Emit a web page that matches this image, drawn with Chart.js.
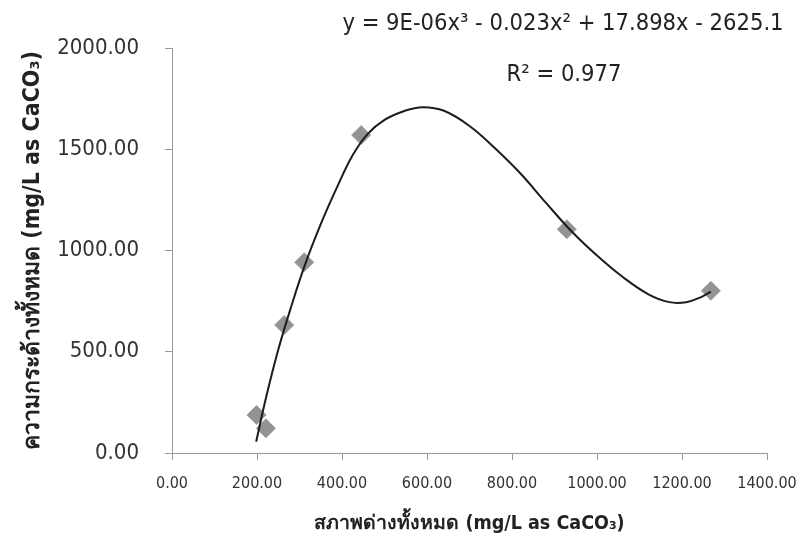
<!DOCTYPE html>
<html>
<head>
<meta charset="utf-8">
<script src="https://cdn.jsdelivr.net/npm/chart.js@4.4.1/dist/chart.umd.min.js"></script>
<style>
  html, body { margin: 0; padding: 0; background: #fff; }
  #wrap { width: 799px; height: 546px; }
</style>
</head>
<body>
<div id="wrap"><canvas id="chart1"></canvas></div>
<script>
// measured points (total alkalinity vs total hardness)
var alkX = [199, 221, 264, 311, 445, 929, 1268];
var hardY = [188, 122, 632, 942, 1570, 1105, 801];

// polynomial trendline
var trendX = [198, 222, 250, 280, 313, 350, 390, 425, 460, 500, 545, 590, 640, 700, 760, 820, 880, 940, 1000, 1060, 1120, 1170, 1210, 1245, 1268];
var trendY = [56, 280, 510, 720, 930, 1130, 1320, 1470, 1575, 1645, 1688, 1708, 1690, 1615, 1505, 1380, 1235, 1095, 975, 870, 785, 745, 745, 770, 797];

var xTicks = [0, 200, 400, 600, 800, 1000, 1200, 1400];
var yTicks = [0, 500, 1000, 1500, 2000];

var eqText = "y = 9E-06x\u00B3 - 0.023x\u00B2 + 17.898x - 2625.1";
var r2Text = "R\u00B2 = 0.977";
var xTitle = "สภาพด่างทั้งหมด (mg/L as CaCO\u2083)";
var yTitle = "ความกระด้างทั้งหมด (mg/L as CaCO\u2083)";

var FONT = "'DejaVu Sans Condensed', 'DejaVu Sans', 'Noto Sans', sans-serif";

function toXY(xs, ys) {
  var out = [];
  for (let i = 0; i < xs.length; i++) {
    out.push({ x: xs[i], y: ys[i] });
  }
  return out;
}

var whiteBg = {
  id: 'whiteBg',
  beforeDraw: function (chart) {
    let ctx = chart.ctx;
    ctx.save();
    ctx.fillStyle = '#fff';
    ctx.fillRect(0, 0, chart.width, chart.height);
    ctx.restore();
  }
};

var equation = {
  id: 'equation',
  afterDraw: function (chart) {
    let ctx = chart.ctx;
    ctx.save();
    ctx.fillStyle = '#222';
    ctx.textAlign = 'center';
    ctx.textBaseline = 'middle';
    ctx.font = "23.5px " + FONT;
    ctx.fillText(eqText, 563, 24);
    ctx.fillText(r2Text, 564, 75);
    ctx.restore();
  }
};

var ctx = document.getElementById('chart1');
var myChart = new Chart(ctx, {
  type: 'scatter',
  data: {
    datasets: [{
      label: 'trend',
      data: toXY(trendX, trendY),
      showLine: true,
      borderColor: '#1c1c1c',
      borderWidth: 2,
      pointRadius: 0,
      tension: 0.4,
      order: 0
    }, {
      label: 'data',
      data: toXY(alkX, hardY),
      pointStyle: 'rectRot',
      pointRadius: 9.5,
      backgroundColor: 'rgba(135,135,135,0.9)',
      borderColor: '#a0a0a0',
      borderWidth: 1,
      order: 1
    }]
  },
  options: {
    responsive: true,
    maintainAspectRatio: false,
    animation: false,
    layout: { padding: { left: 8, right: 32, top: 48, bottom: 0 } },
    plugins: {
      legend: { display: false },
      tooltip: { enabled: false }
    },
    scales: {
      x: {
        type: 'linear',
        min: 0,
        max: 1400,
        afterBuildTicks: function (scale) {
          scale.ticks = xTicks.map(v => ({ value: v }));
        },
        afterFit: function (scale) {
          scale.height = 93;
          scale.paddingLeft = 0;
          scale.paddingRight = 0;
        },
        grid: { drawOnChartArea: false, color: '#999', tickLength: 7 },
        border: { color: '#999', width: 1 },
        ticks: {
          color: '#333',
          padding: 14,
          maxRotation: 0,
          font: { family: FONT, size: 16 },
          callback: v => Number(v).toFixed(2)
        },
        title: {
          display: true,
          text: xTitle,
          color: '#222',
          font: { family: FONT, size: 19.5, weight: 'bold' },
          padding: { top: 0, bottom: 10 }
        }
      },
      y: {
        type: 'linear',
        min: 0,
        max: 2000,
        afterBuildTicks: function (scale) {
          scale.ticks = yTicks.map(v => ({ value: v }));
        },
        afterFit: function (scale) {
          scale.width = 164;
          scale.paddingTop = 0;
          scale.paddingBottom = 0;
        },
        grid: { drawOnChartArea: false, color: '#999', tickLength: 7 },
        border: { color: '#999', width: 1 },
        ticks: {
          color: '#333',
          padding: 26,
          font: { family: FONT, size: 22 },
          callback: v => Number(v).toFixed(2)
        },
        title: {
          display: true,
          text: yTitle,
          color: '#222',
          font: { family: FONT, size: 23, weight: 'bold' },
          padding: { top: 11, bottom: 0 }
        }
      }
    }
  },
  plugins: [whiteBg, equation]
});
</script>
</body>
</html>
